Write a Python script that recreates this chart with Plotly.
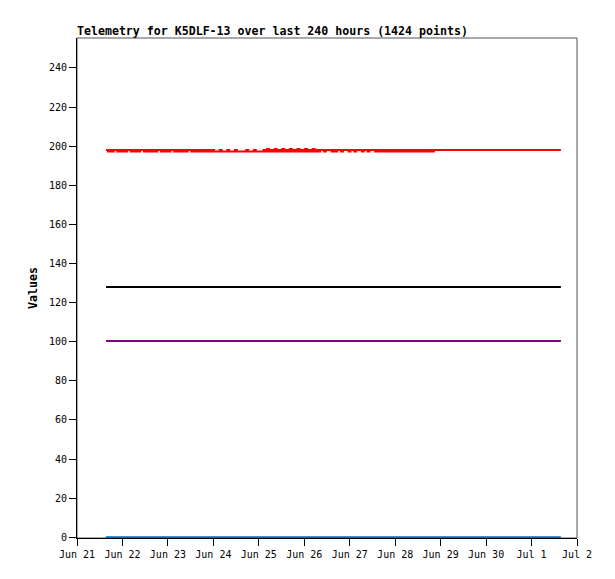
import plotly.graph_objects as go
import pandas as pd

# ---- data ----
start = pd.Timestamp("2024-06-21 15:20")
end = pd.Timestamp("2024-07-01 15:30")

red_vals = [
    198,197.3,198,197.3,198,198,197.3,198,197.3,198,197.3,198,198,197.3,198,197.3,198,197.3,198,198,197.3,198,197.3,198,
    197.3,198,197.3,198,198,197.3,198,197.3,198,197.3,198,198,197.3,198,197.3,198,197.3,198,197.3,198,198,197.3,198,197.3,
    198,197.3,198,197.3,198,197.3,198,197.3,198,197.3,197.3,197.3,198,197.3,197.3,197.3,198,197.3,197.3,197.3,198,197.3,197.3,197.3,
    197.3,197.3,198,197.3,197.3,197.3,198,197.3,197.3,197.3,197.3,198,197.3,198.5,197.3,198,197.3,198.5,197.3,198,197.3,198.5,197.3,198,
    197.3,198.5,197.3,198,197.3,198.5,197.3,198,197.3,198.5,197.3,198,197.3,198.5,197.3,198,197.3,198,198,197.3,198,198,198,197.3,
    198,197.3,198,198,197.3,198,198,198,197.3,198,198,197.3,198,198,198,197.3,198,198,197.3,198,198,198,197.3,198,
    197.3,198,197.3,198,197.3,198,197.3,198,197.3,198,197.3,198,197.3,198,197.3,198,197.3,198,197.3,198,197.3,198,197.3,198,
    197.3,198,197.3,198,197.3,198,
    198,
]
red_hours = list(range(len(red_vals) - 1)) + [240]

black_vals = [128, 128]
purple_vals = [100.3, 100.3]
blue_vals = [0, 0]
flat_hours = [0, 240]

y_ticks = [0, 20, 40, 60, 80, 100, 120, 140, 160, 180, 200, 220, 240]
x_ticks = pd.date_range("2024-06-21", "2024-07-02", freq="D")

title_text = "Telemetry for K5DLF-13 over last 240 hours (1424 points)"
y_title = "Values"

def to_time(hours):
    return [start + pd.Timedelta(hours=h) * ((end - start) / pd.Timedelta(hours=240)) for h in hours]

fig = go.Figure()
series = [
    (red_hours, red_vals, "#ff0000", "hv"),
    (flat_hours, black_vals, "#000000", "linear"),
    (flat_hours, purple_vals, "#800080", "linear"),
    (flat_hours, blue_vals, "#0066cc", "linear"),
]
for hrs, vals, col, shp in series:
    fig.add_trace(go.Scatter(x=to_time(hrs), y=vals, mode="lines",
                             line=dict(color=col, width=2, shape=shp), showlegend=False,
                             hoverinfo="skip"))

# page body adds an 8px offset; the figure is sized/margined to compensate
W, H = 607, 571
mono = "DejaVu Sans Mono"
fig.update_layout(
    width=W, height=H,
    margin=dict(l=69, r=38, t=30, b=41),
    paper_bgcolor="white", plot_bgcolor="white",
    title=dict(text="<b>" + title_text + "</b>", x=69 / W, xref="container",
               xanchor="left", y=1 - 23 / H, yanchor="middle",
               font=dict(family=mono, size=11.6, color="black")),
    font=dict(family=mono, size=10, color="black"),
    shapes=[dict(type="rect", xref="paper", yref="paper", x0=0, x1=1, y0=0, y1=1,
                 line=dict(color="#555555", width=1), layer="below")],
)
fig.update_xaxes(
    range=[x_ticks[0], x_ticks[-1]],
    tickvals=list(x_ticks), tickformat="%b %-d",
    ticks="outside", ticklen=7, tickcolor="black",
    showline=True, linecolor="black", linewidth=1,
    showgrid=False, zeroline=False, layer="below traces",
    tickfont=dict(family=mono, size=10, color="black"),
)
fig.update_yaxes(
    range=[-0.4, 255.3],
    tickvals=y_ticks,
    ticks="outside", ticklen=7, tickcolor="black",
    showline=True, linecolor="black", linewidth=1,
    showgrid=False, zeroline=False, layer="below traces",
    tickfont=dict(family=mono, size=10, color="black"),
    title=dict(text="<b>" + y_title + "</b>", standoff=8,
               font=dict(family=mono, size=11.6, color="black")),
)

fig.write_html("out.html")
